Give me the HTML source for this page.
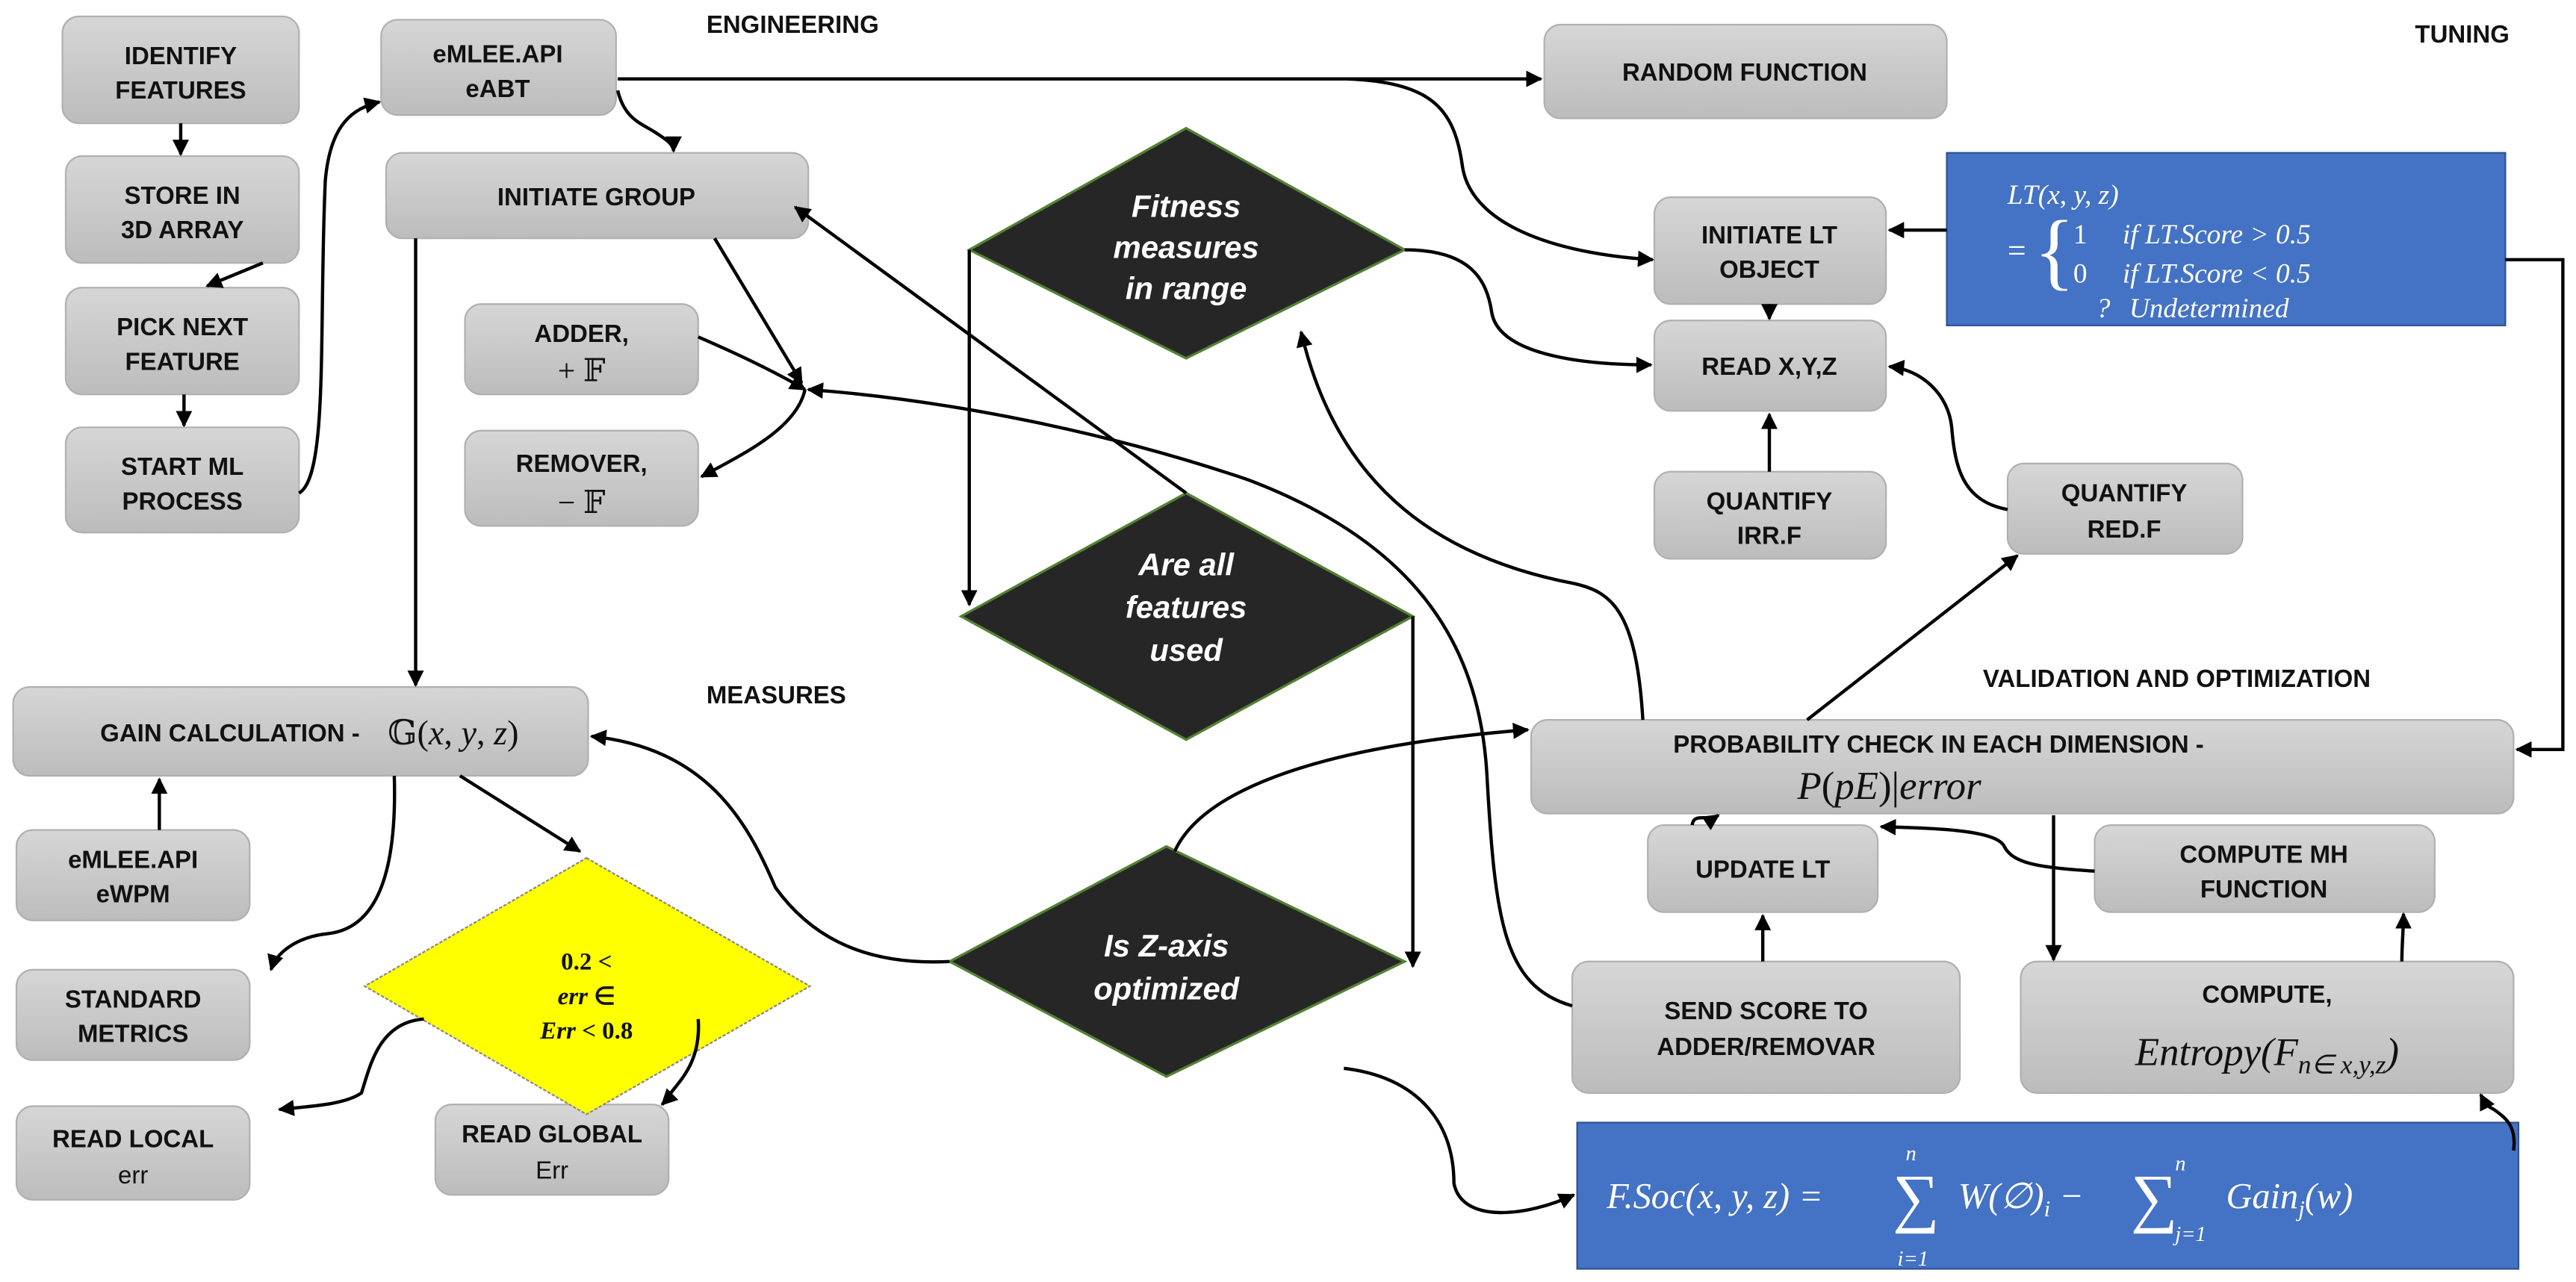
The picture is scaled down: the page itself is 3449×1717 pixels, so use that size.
<!DOCTYPE html>
<html><head><meta charset="utf-8"><style>
html,body{margin:0;padding:0;background:#fff;}
svg{display:block;}
.t{font-family:"Liberation Sans",sans-serif;font-weight:bold;font-size:15px;fill:#111;text-anchor:middle;}
.h{font-family:"Liberation Sans",sans-serif;font-weight:bold;font-size:15px;fill:#111;}
.d{font-family:"Liberation Sans",sans-serif;font-weight:bold;font-style:italic;font-size:19px;fill:#fff;text-anchor:middle;}
.m{font-family:"Liberation Serif",serif;font-style:italic;fill:#fff;}
.mk{font-family:"Liberation Serif",serif;font-style:italic;fill:#111;}
.c{fill:none;stroke:#000;stroke-width:2;}
.b{fill:url(#g);stroke:#b0b0b0;stroke-width:1;}
</style></head><body>
<svg width="3449" height="1717" viewBox="0 0 1568 780" preserveAspectRatio="none" xmlns="http://www.w3.org/2000/svg">
<defs>
<linearGradient id="g" x1="0" y1="0" x2="0" y2="1"><stop offset="0" stop-color="#d6d6d6"/><stop offset="1" stop-color="#bcbcbc"/></linearGradient>
<marker id="a" viewBox="0 0 10 10" refX="9" refY="5" markerWidth="5" markerHeight="5" orient="auto"><path d="M0,0 L10,5 L0,10 z" fill="#000"/></marker>
</defs>

<!-- gray boxes -->
<g class="b">
<rect x="38" y="10" width="144" height="65" rx="10"/>
<rect x="40" y="95" width="142" height="65" rx="10"/>
<rect x="40" y="175" width="142" height="65" rx="10"/>
<rect x="40" y="260" width="142" height="64" rx="10"/>
<rect x="232" y="12" width="143" height="58" rx="10"/>
<rect x="235" y="93" width="257" height="52" rx="10"/>
<rect x="283" y="185" width="142" height="55" rx="10"/>
<rect x="283" y="262" width="142" height="58" rx="10"/>
<rect x="940" y="15" width="245" height="57" rx="10"/>
<rect x="1007" y="120" width="141" height="65" rx="10"/>
<rect x="1007" y="195" width="141" height="55" rx="10"/>
<rect x="1007" y="287" width="141" height="53" rx="10"/>
<rect x="1222" y="282" width="143" height="55" rx="10"/>
<rect x="8" y="418" width="350" height="54" rx="10"/>
<rect x="10" y="505" width="142" height="55" rx="10"/>
<rect x="10" y="590" width="142" height="55" rx="10"/>
<rect x="10" y="673" width="142" height="57" rx="10"/>
<rect x="265" y="672" width="142" height="55" rx="10"/>
<rect x="932" y="438" width="598" height="57" rx="10"/>
<rect x="1003" y="502" width="140" height="53" rx="10"/>
<rect x="1275" y="502" width="207" height="53" rx="10"/>
<rect x="957" y="585" width="236" height="80" rx="10"/>
<rect x="1230" y="585" width="300" height="80" rx="10"/>
</g>

<!-- blue boxes -->
<rect x="1185" y="93" width="340" height="105" fill="#4472c4" stroke="#2f528f"/>
<rect x="960" y="683" width="573" height="89" fill="#4472c4" stroke="#2f528f"/>

<!-- diamonds -->
<g fill="#262626" stroke="#548235" stroke-width="1.5">
<polygon points="722,78 855,152 722,218 590,152"/>
<polygon points="722,300 860,375 722,450 585,375"/>
<polygon points="710,515 855,585 710,655 578,585"/>
</g>
<polygon points="357,522 493,600 357,678 222,600" fill="#ffff00" stroke="#888" stroke-width="1" stroke-dasharray="2,1"/>

<!-- connectors -->
<g class="c" marker-end="url(#a)">
<path d="M110,75 L110,94"/>
<path d="M160,160 L126,174"/>
<path d="M112,240 L112,259"/>
<path d="M182,300 C200,290 194,200 198,110 C201,75 215,66 231,62"/>
<path d="M376,48 L938,48"/>
<path d="M820,48 C870,50 885,65 890,100 C895,140 955,155 1006,158"/>
<path d="M376,55 C380,72 390,75 398,80 C406,85 410,88 410,92"/>
<path d="M253,145 L253,417"/>
<path d="M435,145 L488,233"/>
<path d="M425,205 C455,218 475,228 490,237"/>
<path d="M490,237 C485,260 455,275 427,290"/>
<path d="M957,612 C915,600 910,560 905,470 C900,390 860,330 760,292 C660,258 560,242 492,237"/>
<path d="M722,300 L484,126"/>
<path d="M590,152 L590,368"/>
<path d="M855,152 C895,152 905,170 908,190 C912,215 960,222 1005,222"/>
<path d="M860,375 L860,588"/>
<path d="M1000,438 C996,370 980,360 958,355 C880,340 815,300 792,202"/>
<path d="M578,585 C520,588 490,565 472,540 C455,500 430,455 360,448"/>
<path d="M715,518 C730,485 790,455 930,444"/>
<path d="M818,650 C860,655 885,680 885,720 C890,745 930,740 958,727"/>
<path d="M280,472 L353,518"/>
<path d="M240,472 C242,540 225,565 200,568 C180,570 168,580 165,590"/>
<path d="M97,505 L97,474"/>
<path d="M258,620 C230,622 225,650 220,665 C210,672 190,673 170,675"/>
<path d="M425,620 C427,650 410,660 405,670 L403,672"/>
<path d="M1100,438 L1228,338"/>
<path d="M1222,310 C1195,305 1190,285 1188,260 C1186,240 1170,225 1150,223"/>
<path d="M1077,287 L1077,252"/>
<path d="M1077,185 L1077,194"/>
<path d="M1185,140 L1150,140"/>
<path d="M1525,158 L1560,158 L1560,456 L1532,456"/>
<path d="M1250,496 L1250,584"/>
<path d="M1462,585 C1462,575 1463,565 1463,556"/>
<path d="M1275,530 C1240,528 1225,525 1220,515 C1215,505 1180,504 1145,503"/>
<path d="M1030,502 C1031,494 1040,500 1046,496"/>
<path d="M1073,585 L1073,557"/>
<path d="M1530,700 C1532,685 1525,680 1518,675 C1512,672 1512,670 1510,666"/>
</g>

<!-- labels -->
<text class="h" x="430" y="20">ENGINEERING</text>
<text class="h" x="1470" y="26">TUNING</text>
<text class="h" x="430" y="428">MEASURES</text>
<text class="h" x="1207" y="418">VALIDATION AND OPTIMIZATION</text>

<!-- box texts -->
<text class="t" x="110" y="39">IDENTIFY</text><text class="t" x="110" y="60">FEATURES</text>
<text class="t" x="111" y="124">STORE IN</text><text class="t" x="111" y="145">3D ARRAY</text>
<text class="t" x="111" y="204">PICK  NEXT</text><text class="t" x="111" y="225">FEATURE</text>
<text class="t" x="111" y="289">START ML</text><text class="t" x="111" y="310">PROCESS</text>
<text class="t" x="303" y="38">eMLEE.API</text><text class="t" x="303" y="59">eABT</text>
<text class="t" x="363" y="125">INITIATE GROUP</text>
<text class="t" x="354" y="208">ADDER,</text><text class="t" x="354" y="232" style="font-weight:normal;font-family:'Liberation Serif','DejaVu Serif',serif;font-size:19px">+ 𝔽</text>
<text class="t" x="354" y="287">REMOVER,</text><text class="t" x="354" y="312" style="font-weight:normal;font-family:'Liberation Serif','DejaVu Serif',serif;font-size:19px">− 𝔽</text>
<text class="t" x="1062" y="49">RANDOM FUNCTION</text>
<text class="t" x="1077" y="148">INITIATE LT</text><text class="t" x="1077" y="169">OBJECT</text>
<text class="t" x="1077" y="228">READ X,Y,Z</text>
<text class="t" x="1077" y="310">QUANTIFY</text><text class="t" x="1077" y="331">IRR.F</text>
<text class="t" x="1293" y="305">QUANTIFY</text><text class="t" x="1293" y="327">RED.F</text>
<text class="t" x="140" y="451">GAIN CALCULATION -</text>
<text class="mk" x="236" y="453" style="font-size:21px;font-style:normal;font-family:'Liberation Serif','DejaVu Serif',serif">𝔾(<tspan font-style="italic">x</tspan>, <tspan font-style="italic">y</tspan>, <tspan font-style="italic">z</tspan>)</text>
<text class="t" x="81" y="528">eMLEE.API</text><text class="t" x="81" y="549">eWPM</text>
<text class="t" x="81" y="613">STANDARD</text><text class="t" x="81" y="634">METRICS</text>
<text class="t" x="81" y="698">READ LOCAL</text><text class="t" x="81" y="720" style="font-weight:normal">err</text>
<text class="t" x="336" y="695">READ GLOBAL</text><text class="t" x="336" y="717" style="font-weight:normal">Err</text>
<text class="t" x="1180" y="458">PROBABILITY CHECK IN EACH DIMENSION -</text>
<text class="mk" x="1150" y="486" style="font-size:24px;font-style:normal;text-anchor:middle"><tspan font-style="italic">P</tspan>(<tspan font-style="italic">pE</tspan>)|<tspan font-style="italic">error</tspan></text>
<text class="t" x="1073" y="534">UPDATE LT</text>
<text class="t" x="1378" y="525">COMPUTE MH</text><text class="t" x="1378" y="546">FUNCTION</text>
<text class="t" x="1075" y="620">SEND SCORE TO</text><text class="t" x="1075" y="642">ADDER/REMOVAR</text>
<text class="t" x="1380" y="610">COMPUTE,</text>
<text class="mk" x="1380" y="648" style="font-size:24px;text-anchor:middle">Entropy(F<tspan font-size="16" dy="5">n∈ x,y,z</tspan><tspan dy="-5">)</tspan></text>

<!-- diamond texts -->
<text class="d" x="722" y="132">Fitness</text><text class="d" x="722" y="157">measures</text><text class="d" x="722" y="182">in range</text>
<text class="d" x="722" y="350">Are all</text><text class="d" x="722" y="376">features</text><text class="d" x="722" y="402">used</text>
<text class="d" x="710" y="582">Is Z-axis</text><text class="d" x="710" y="608">optimized</text>
<g style="font-family:'Liberation Serif',serif;font-weight:bold;font-size:15px;fill:#111;text-anchor:middle">
<text x="357" y="590">0.2 &lt;</text>
<text x="357" y="611"><tspan font-style="italic">err</tspan> ∈</text>
<text x="357" y="632"><tspan font-style="italic">Err</tspan> &lt; 0.8</text>
</g>

<!-- LT formula -->
<g class="m" style="font-size:17px">
<text x="1222" y="124">LT(x, y, z)</text>
<text x="1222" y="159" style="font-style:normal;font-size:20px">=</text>
<text x="1238" y="170" style="font-style:normal;font-size:52px;font-weight:lighter">{</text>
<text x="1262" y="148" style="font-style:normal">1</text><text x="1292" y="148">if LT.Score &gt; 0.5</text>
<text x="1262" y="172" style="font-style:normal">0</text><text x="1292" y="172">if LT.Score &lt; 0.5</text>
<text x="1276" y="193">?</text><text x="1296" y="193">Undetermined</text>
</g>

<!-- F.Soc formula -->
<g class="m" style="font-size:22px">
<text x="978" y="735">F.Soc(x, y, z) =</text>
<text x="1152" y="742" style="font-style:normal;font-size:40px">∑</text>
<text x="1160" y="706" style="font-size:13px">n</text>
<text x="1155" y="770" style="font-size:13px">i=1</text>
<text x="1192" y="735">W(∅)<tspan font-size="14" dy="5">i</tspan><tspan dy="-5"> −</tspan></text>
<text x="1297" y="742" style="font-style:normal;font-size:40px">∑</text>
<text x="1324" y="712" style="font-size:13px">n</text>
<text x="1324" y="755" style="font-size:13px">j=1</text>
<text x="1355" y="735">Gain<tspan font-size="14" dy="5">j</tspan><tspan dy="-5">(w)</tspan></text>
</g>
</svg>
</body></html>
